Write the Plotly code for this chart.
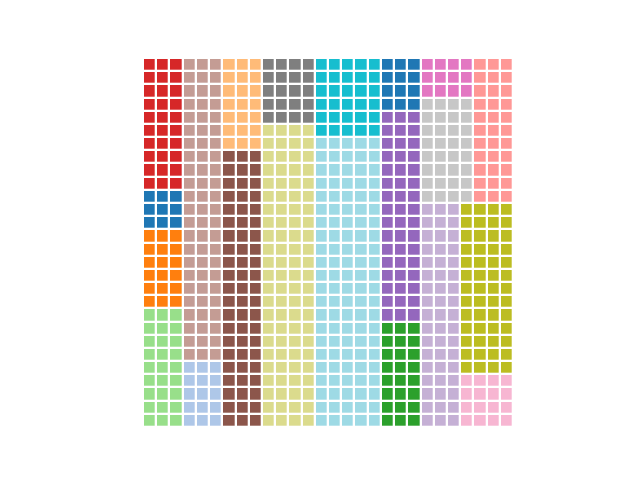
import numpy as np
import plotly.graph_objects as go

# ---- data -------------------------------------------------------------
categories = [f"Category {i + 1}" for i in range(21)]
counts = [12, 15, 18, 21, 24, 27, 30, 33, 48, 51, 63, 69,
          12, 16, 20, 32, 52, 92, 30, 110, 9]
colors = ["#1f77b4", "#aec7e8", "#ff7f0e", "#ffbb78", "#2ca02c", "#98df8a",
          "#d62728", "#ff9896", "#9467bd", "#c5b0d5", "#8c564b", "#c49c94",
          "#e377c2", "#f7b6d2", "#7f7f7f", "#c7c7c7", "#bcbd22", "#dbdb8d",
          "#17becf", "#9edae5", "#1f77b4"]

GRID = 28

# ---- block layout (treemap-like slicing of the waffle) -----------------
layout_tree = ("H", [
    ("V", [6, 20, 2, 5]),
    ("V", [11, 1]),
    ("V", [3, 10]),
    ("V", [14, 17]),
    ("V", [18, 19]),
    ("V", [0, 8, 4]),
    ("V", [("H", [("V", [12, 15]), 7]),
           ("H", [9, ("V", [16, 13])])]),
])


def total(node):
    if isinstance(node, int):
        return counts[node]
    return sum(total(c) for c in node[1])


grid = np.full((GRID, GRID), -1, dtype=int)


def place(node, x0, y0, w, h):
    if isinstance(node, int):
        grid[y0:y0 + h, x0:x0 + w] = node
        return
    kind, children = node
    if kind == "H":
        x = x0
        for c in children:
            cw = total(c) // h
            place(c, x, y0, cw, h)
            x += cw
    else:
        y = y0
        for c in children:
            ch = total(c) // w
            place(c, x0, y, w, ch)
            y += ch


place(layout_tree, 0, 0, GRID, GRID)

n = len(counts)
colorscale = []
for i, c in enumerate(colors):
    colorscale.append([i / n, c])
    colorscale.append([(i + 1) / n, c])

text = [[categories[v] for v in row] for row in grid]

fig = go.Figure(go.Heatmap(
    z=grid,
    x=list(range(GRID)),
    y=list(range(GRID)),
    text=text,
    hovertemplate="%{text}<extra></extra>",
    colorscale=colorscale,
    zmin=-0.5,
    zmax=n - 0.5,
    showscale=False,
    xgap=2.3,
    ygap=2.3,
))

fig.update_layout(
    width=640,
    height=480,
    margin=dict(l=143, r=127, t=58, b=53),
    paper_bgcolor="white",
    plot_bgcolor="white",
    xaxis=dict(visible=False, range=[-0.5, GRID - 0.5], fixedrange=True),
    yaxis=dict(visible=False, range=[GRID - 0.5, -0.5], fixedrange=True),
)

fig.write_html("out.html")
